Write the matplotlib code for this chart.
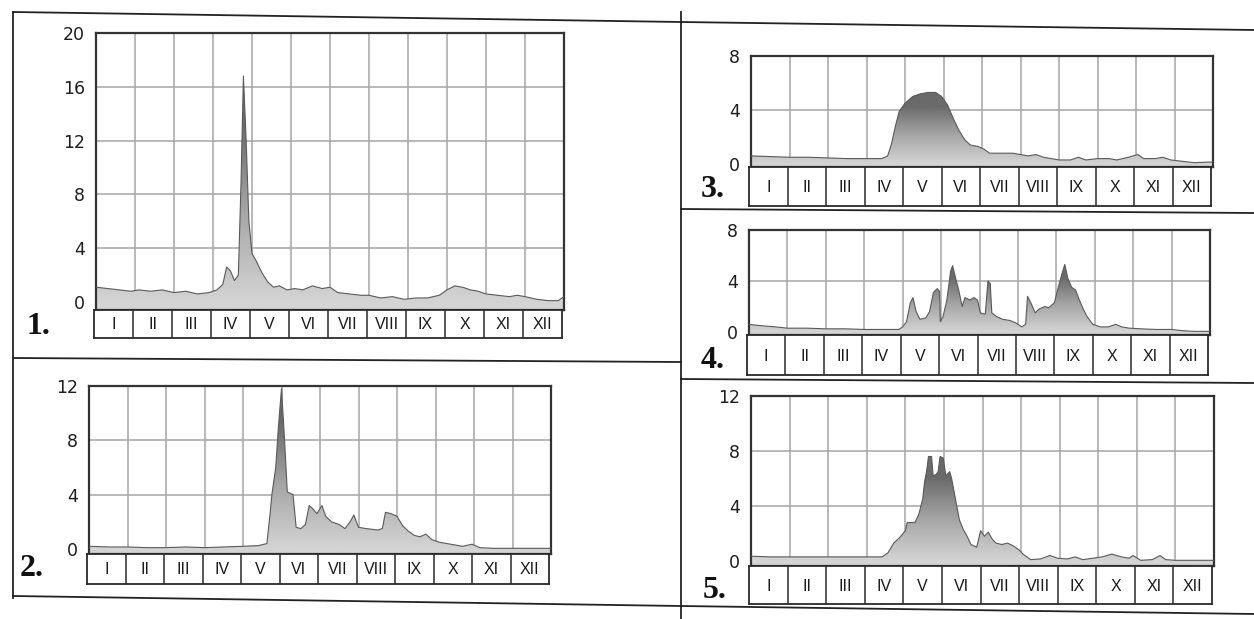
import numpy as np
import matplotlib
matplotlib.use('Agg')
import matplotlib.pyplot as plt
from matplotlib.colors import LinearSegmentedColormap
from matplotlib.lines import Line2D

months = ['I', 'II', 'III', 'IV', 'V', 'VI', 'VII', 'VIII', 'IX', 'X', 'XI', 'XII']

# position in months (0 = 1 Jan, 12 = 31 Dec) and value
p1_x = [0.0, 0.3, 0.6, 0.9, 1.1, 1.4, 1.7, 2.0, 2.3, 2.6, 2.9, 3.1, 3.25, 3.35, 3.45, 3.55,
        3.65, 3.72, 3.78, 3.85, 3.92, 4.0, 4.1, 4.25, 4.4, 4.55, 4.7, 4.9, 5.1, 5.3, 5.55,
        5.8, 6.0, 6.2, 6.5, 6.8, 7.0, 7.3, 7.6, 7.9, 8.2, 8.5, 8.8, 9.0, 9.2, 9.4, 9.6, 9.8,
        10.0, 10.3, 10.6, 10.8, 11.0, 11.3, 11.6, 11.85, 12.0]
p1_y = [1.1, 1.0, 0.9, 0.8, 0.9, 0.8, 0.9, 0.7, 0.8, 0.6, 0.7, 0.9, 1.3, 2.6, 2.3, 1.6,
        2.0, 9.0, 16.8, 12.0, 6.0, 3.6, 3.1, 2.2, 1.5, 1.1, 1.2, 0.9, 1.0, 0.9, 1.2,
        1.0, 1.1, 0.7, 0.6, 0.5, 0.5, 0.3, 0.4, 0.2, 0.3, 0.3, 0.5, 0.9, 1.2, 1.1, 0.9, 0.8,
        0.6, 0.5, 0.4, 0.5, 0.4, 0.2, 0.1, 0.1, 0.4]

p2_x = [0.0, 0.5, 1.0, 1.5, 2.0, 2.5, 3.0, 3.5, 4.0, 4.4, 4.62, 4.7, 4.75, 4.85, 4.92, 5.0,
        5.08, 5.15, 5.3, 5.38, 5.5, 5.62, 5.72, 5.8, 5.92, 6.05, 6.15, 6.3, 6.5, 6.65, 6.78,
        6.88, 7.0, 7.2, 7.5, 7.62, 7.7, 7.85, 8.0, 8.15, 8.3, 8.45, 8.6, 8.75, 8.9, 9.1, 9.3,
        9.5, 9.7, 9.95, 10.15, 10.5, 11.0, 12.0]
p2_y = [0.2, 0.15, 0.15, 0.1, 0.1, 0.15, 0.1, 0.15, 0.2, 0.25, 0.4, 2.5, 4.0, 6.0, 9.0, 11.8,
        8.0, 4.2, 4.0, 1.6, 1.5, 1.8, 3.2, 3.0, 2.6, 3.2, 2.4, 2.0, 1.8, 1.5, 2.0,
        2.5, 1.6, 1.5, 1.4, 1.5, 2.7, 2.6, 2.4, 1.7, 1.3, 1.0, 0.9, 1.1, 0.7, 0.5, 0.4,
        0.3, 0.2, 0.35, 0.1, 0.05, 0.05, 0.05]

p3_x = [0.0, 0.5, 1.0, 1.5, 2.0, 2.5, 3.0, 3.4, 3.55, 3.65, 3.75, 3.85, 4.0, 4.2, 4.4, 4.6,
        4.8, 4.95, 5.1, 5.25, 5.4, 5.55, 5.7, 5.9, 6.05, 6.2, 6.5, 6.8, 7.0, 7.2, 7.4, 7.6,
        7.8, 8.0, 8.3, 8.5, 8.7, 9.0, 9.3, 9.5, 9.8, 10.05, 10.2, 10.5, 10.7, 10.9, 11.2,
        11.5, 12.0]
p3_y = [0.6, 0.55, 0.5, 0.5, 0.45, 0.4, 0.4, 0.4, 0.6, 1.5, 2.8, 3.9, 4.5, 5.0, 5.2, 5.3,
        5.3, 5.0, 4.4, 3.4, 2.5, 1.8, 1.4, 1.3, 1.1, 0.8, 0.8, 0.8, 0.7, 0.6, 0.7, 0.5,
        0.4, 0.3, 0.3, 0.5, 0.3, 0.4, 0.4, 0.3, 0.5, 0.7, 0.4, 0.4, 0.5, 0.3, 0.2,
        0.1, 0.15]

p4_x = [0.0, 0.3, 0.7, 1.0, 1.5, 2.0, 2.5, 3.0, 3.5, 3.9, 4.0, 4.1, 4.2, 4.27, 4.35, 4.45,
        4.6, 4.7, 4.8, 4.9, 4.96, 4.98, 5.05, 5.15, 5.25, 5.3, 5.38, 5.45, 5.55, 5.62, 5.75,
        5.85, 5.95, 6.02, 6.15, 6.22, 6.28, 6.32, 6.45, 6.6, 6.8, 6.95, 7.1, 7.2, 7.25, 7.35,
        7.45, 7.55, 7.7, 7.8, 7.95, 8.05, 8.15, 8.22, 8.3, 8.4, 8.5, 8.6, 8.7, 8.8, 8.95,
        9.15, 9.35, 9.55, 9.7, 9.9, 10.2, 10.6, 11.0, 11.3, 11.6, 12.0]
p4_y = [0.6, 0.5, 0.4, 0.3, 0.3, 0.25, 0.25, 0.2, 0.2, 0.2, 0.4, 0.8, 2.3, 2.7, 1.6, 1.0,
        1.1, 1.6, 3.1, 3.4, 3.2, 0.8, 1.2, 2.5, 4.8, 5.2, 4.2, 3.4, 2.0, 2.7, 2.5,
        2.7, 2.5, 1.5, 1.4, 4.0, 3.8, 1.5, 1.2, 1.0, 0.9, 0.7, 0.4, 0.6, 2.8, 2.2,
        1.5, 1.8, 2.0, 1.9, 2.3, 3.5, 4.6, 5.3, 4.2, 3.5, 3.3, 2.5, 1.8, 1.2, 0.6,
        0.4, 0.4, 0.6, 0.4, 0.3, 0.25, 0.2, 0.2, 0.1, 0.05, 0.05]

p5_x = [0.0, 0.5, 1.0, 1.5, 2.0, 2.5, 3.0, 3.4, 3.55, 3.7, 3.85, 4.0, 4.05, 4.25, 4.35, 4.45,
        4.5, 4.55, 4.6, 4.68, 4.72, 4.8, 4.85, 4.9, 4.98, 5.05, 5.15, 5.2, 5.3, 5.4, 5.5,
        5.6, 5.7, 5.85, 5.95, 6.05, 6.15, 6.25, 6.35, 6.5, 6.65, 6.8, 6.95, 7.05, 7.25, 7.5,
        7.75, 7.95, 8.2, 8.4, 8.6, 8.85, 9.1, 9.35, 9.6, 9.8, 9.9, 10.1, 10.4, 10.6, 10.75,
        11.0, 12.0]
p5_y = [0.35, 0.3, 0.3, 0.3, 0.3, 0.3, 0.3, 0.3, 0.6, 1.3, 1.7, 2.2, 2.8, 2.8, 3.4, 4.5,
        5.8, 6.5, 7.6, 7.6, 6.2, 6.3, 6.5, 7.6, 7.5, 6.2, 6.5, 6.0, 4.5, 3.0, 2.3,
        1.8, 1.2, 1.0, 2.2, 1.8, 2.1, 1.6, 1.3, 1.2, 1.3, 1.1, 0.8, 0.5, 0.1, 0.15,
        0.4, 0.2, 0.15, 0.3, 0.1, 0.2, 0.3, 0.5, 0.3, 0.2, 0.4, 0.05, 0.1, 0.4, 0.1,
        0.05, 0.05]

W, H = 1254, 619
fig = plt.figure(figsize=(12.54, 6.19), dpi=100)
fig.patch.set_facecolor('white')

shade = LinearSegmentedColormap.from_list('shade', ['#d4d4d4', '#a6a6a6', '#6a6a6a'])


def box(l, t, r, b):
    return [l / W, 1 - b / H, (r - l) / W, (b - t) / H]


def panel(x, y, ymax, yticks, left, right, top, zero, strip_bot, label, lx, ly):
    ylo = -0.03 * ymax
    ppu = (zero - top) / ymax
    bottom = zero - ylo * ppu
    ax = fig.add_axes(box(left, top, right, bottom))
    ax.set_xlim(0, 12)
    ax.set_ylim(ylo, ymax)

    poly = ax.fill_between(x, ylo, y, facecolor='none', edgecolor='none')
    levels = np.linspace(ylo, ymax, 400)
    t = np.clip(levels / (0.8 * max(y)), 0, 1)[:, None]
    im = ax.imshow(t, extent=[0, 12, ylo, ymax], aspect='auto', origin='lower',
                   cmap=shade, vmin=0, vmax=1, zorder=2, interpolation='bilinear')
    im.set_clip_path(poly.get_paths()[0], transform=ax.transData)
    ax.plot(x, y, color='#5a5a5a', lw=0.8, zorder=3)

    ax.set_xticks(range(13))
    ax.set_yticks(yticks)
    ax.set_axisbelow(True)
    ax.grid(color='#a6a6a6', lw=1.1)
    ax.tick_params(length=0, labelbottom=False, labelsize=12.5, pad=8, colors='#1e1e1e')
    for s in ax.spines.values():
        s.set_color('#333333')
        s.set_linewidth(1.6)

    sx = fig.add_axes(box(left - 2, bottom, right - 2, strip_bot))
    sx.set_xlim(0, 12)
    sx.set_ylim(0, 1)
    sx.set_xticks([])
    sx.set_yticks([])
    for i in range(1, 12):
        sx.axvline(i, color='#2a2a2a', lw=1.1)
    for i, m in enumerate(months):
        sx.text(i + 0.5, 0.47, m, ha='center', va='center', fontsize=11.5,
                family=['Liberation Sans Narrow', 'Liberation Sans'], color='#1a1a1a')
    for s in sx.spines.values():
        s.set_color('#2a2a2a')
        s.set_linewidth(1.3)

    fig.text(lx / W, 1 - ly / H, label, ha='center', va='center', fontsize=23,
             fontweight='bold', family='Liberation Serif', color='#111111')


panel(p1_x, p1_y, 20, [0, 4, 8, 12, 16, 20], 96, 564, 33, 302, 338, '1.', 38, 326)
panel(p2_x, p2_y, 12, [0, 4, 8, 12], 89, 551, 386, 549, 584, '2.', 32, 568)
panel(p3_x, p3_y, 8, [0, 4, 8], 751, 1213, 56, 164, 206, '3.', 713, 190)
panel(p4_x, p4_y, 8, [0, 4, 8], 749, 1210, 230, 332, 375, '4.', 713, 360)
panel(p5_x, p5_y, 12, [0, 4, 8, 12], 751, 1214, 396, 561, 604, '5.', 715, 591)


# frame lines of the printed page
def rule(x0, y0, x1, y1, lw=1.3):
    fig.add_artist(Line2D([x0 / W, x1 / W], [1 - y0 / H, 1 - y1 / H],
                          transform=fig.transFigure, color='#222222', lw=lw))


rule(13, 12, 681, 22)
rule(681, 22, 1254, 30)
rule(13, 12, 13, 598)
rule(13, 596, 681, 606)
rule(681, 12, 681, 619)
rule(13, 358, 681, 362)
rule(681, 209, 1254, 213)
rule(681, 379, 1254, 383)
rule(681, 606, 1254, 614)

fig.savefig('out.png', dpi=100)
